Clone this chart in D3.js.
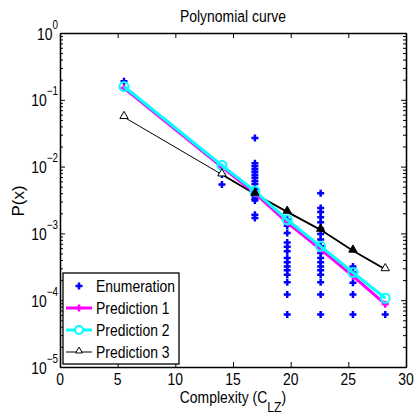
<!DOCTYPE html>
<html lang="en">
<head>
    <meta charset="UTF-8">
    <title>Polynomial curve</title>
    <script type="text/javascript" src="https://d3js.org/d3.v7.min.js"></script>
    <style>
        body { margin: 0; background: #fff; }
        text { font-family: "Liberation Sans", Arial, sans-serif; fill: #000; }
    </style>
</head>
<body>
    <div id="chart"></div>

    <script>
        // data
        const complexity = [5.55, 14.04, 16.9, 19.7, 22.6, 25.4, 28.2];

        const enumeration = [
            [0.19],
            [0.0054, 0.0076],
            [0.0268, 0.0112, 0.0101, 0.0091, 0.0083, 0.0075, 0.0068, 0.0061, 0.0055, 0.0046, 0.0041, 0.0036, 0.0033, 0.0031, 0.0019, 0.0017],
            [0.0016, 0.0013, 0.00101, 0.00073, 0.00063, 0.00054, 0.00043, 0.00037, 0.00032, 0.00028, 0.00024, 0.000185, 0.000122, 0.000061],
            [0.0040, 0.0024, 0.0021, 0.00174, 0.00147, 0.00118, 0.00098, 0.00081, 0.00064, 0.00051, 0.00043, 0.00037, 0.00032, 0.00028, 0.00024, 0.000185, 0.000122, 0.000061],
            [0.00032, 0.00026, 0.000183, 0.000122, 0.000061],
            [0.000061]
        ];

        const prediction1 = [0.150, 0.0098, 0.0040, 0.00145, 0.00058, 0.00023, 0.000087];
        const prediction2 = [0.158, 0.0104, 0.0043, 0.0016, 0.00064, 0.00026, 0.000107];
        const prediction3 = [0.055, 0.0076, 0.0039, 0.0021, 0.00113, 0.00055, 0.00029];

        const xTicks = [0, 5, 10, 15, 20, 25, 30];
        const yExponents = [0, -1, -2, -3, -4, -5];
        const legendLabels = ["Enumeration", "Prediction 1", "Prediction 2", "Prediction 3"];

        const width = 414, height = 420;
        const plotLeft = 60, plotRight = 406, plotTop = 33, plotBottom = 367;
        const squeeze = 0.82; // the figure's text is horizontally narrow

        const svg = d3.select("#chart")
            .append("svg")
            .attr("width", width)
            .attr("height", height);

        // place a text narrowed horizontally at (x, y)
        function placeNarrow(sel, x, y) {
            return sel.attr("transform", (d, i) => {
                const px = typeof x === "function" ? x(d, i) : x;
                const py = typeof y === "function" ? y(d, i) : y;
                return `translate(${px},${py}) scale(${squeeze},1)`;
            });
        }

        const xScale = d3.scaleLinear().domain([0, 30]).range([plotLeft, plotRight]);
        const yScale = d3.scaleLog().domain([1e-5, 1]).range([plotBottom, plotTop]);

        const majors = yExponents.map(e => Math.pow(10, e));
        const minors = [];
        for (let e = -5; e < 0; e++) {
            for (let m = 2; m <= 9; m++) minors.push(m * Math.pow(10, e));
        }

        // axes with inward ticks on all four sides
        svg.append("g")
            .attr("transform", `translate(0,${plotBottom})`)
            .call(d3.axisBottom(xScale).tickValues(xTicks).tickSize(-5).tickSizeOuter(0).tickFormat(""));
        svg.append("g")
            .attr("transform", `translate(0,${plotTop})`)
            .call(d3.axisTop(xScale).tickValues(xTicks).tickSize(-5).tickSizeOuter(0).tickFormat(""));
        svg.append("g")
            .attr("transform", `translate(${plotLeft},0)`)
            .call(d3.axisLeft(yScale).tickValues(majors).tickSize(-5).tickSizeOuter(0).tickFormat(""));
        svg.append("g")
            .attr("transform", `translate(${plotRight},0)`)
            .call(d3.axisRight(yScale).tickValues(majors).tickSize(-5).tickSizeOuter(0).tickFormat(""));
        svg.append("g")
            .attr("transform", `translate(${plotLeft},0)`)
            .call(d3.axisLeft(yScale).tickValues(minors).tickSize(-3).tickSizeOuter(0).tickFormat(""));
        svg.append("g")
            .attr("transform", `translate(${plotRight},0)`)
            .call(d3.axisRight(yScale).tickValues(minors).tickSize(-3).tickSizeOuter(0).tickFormat(""));

        svg.selectAll(".domain, .tick line").attr("stroke", "#000").attr("stroke-width", 1);
        svg.selectAll(".domain").attr("stroke-width", 1.3);

        // tick labels
        placeNarrow(svg.selectAll(".xlab")
            .data(xTicks)
            .enter()
            .append("text")
            .attr("text-anchor", "middle")
            .style("font-size", "17px")
            .text(d => d), d => xScale(d), plotBottom + 18);

        const ylab = placeNarrow(svg.selectAll(".ylab")
            .data(yExponents)
            .enter()
            .append("text")
            .attr("text-anchor", "end")
            .style("font-size", "17px"), plotLeft - 2, d => yScale(Math.pow(10, d)) + 6.5);
        ylab.append("tspan").text("10");
        ylab.append("tspan")
            .attr("dy", -11)
            .style("font-size", "12px")
            .text(d => d === 0 ? "0" : "\u2212" + (-d));

        // title and axis titles
        placeNarrow(svg.append("text")
            .attr("text-anchor", "middle")
            .style("font-size", "17px")
            .text("Polynomial curve"), (plotLeft + plotRight) / 2, 22);

        const xt = placeNarrow(svg.append("text")
            .attr("text-anchor", "middle")
            .style("font-size", "17px"), (plotLeft + plotRight) / 2, 403);
        xt.append("tspan").text("Complexity (C");
        xt.append("tspan").attr("dy", 9).style("font-size", "15px").text("LZ");
        xt.append("tspan").attr("dy", -9).text(")");

        svg.append("text")
            .attr("transform", `translate(24,${(plotTop + plotBottom) / 2 + 1}) rotate(-90)`)
            .attr("text-anchor", "middle")
            .style("font-size", "17px")
            .text("P(x)");

        const plot = svg.append("g");

        const plusPath = "M-3.5,0H3.5M0,-3.5V3.5";

        // enumeration points
        const enumPoints = [];
        enumeration.forEach((vals, i) => vals.forEach(v => enumPoints.push([complexity[i], v])));
        plot.selectAll(".enum")
            .data(enumPoints)
            .enter()
            .append("path")
            .attr("d", plusPath)
            .attr("transform", d => `translate(${xScale(d[0])},${yScale(d[1])})`)
            .attr("stroke", "#0000ff")
            .attr("stroke-width", 2.5);

        const line = d3.line()
            .x((d, i) => xScale(complexity[i]))
            .y(d => yScale(d));

        // prediction 3 (black, triangles)
        plot.append("path")
            .attr("d", line(prediction3))
            .attr("fill", "none")
            .attr("stroke", "#000")
            .attr("stroke-width", 1);
        plot.append("path")
            .attr("d", d3.line().x((d, i) => xScale(complexity[i + 1])).y(d => yScale(d))(prediction3.slice(1)))
            .attr("fill", "none")
            .attr("stroke", "#000")
            .attr("stroke-width", 1.8);

        // prediction 1 (magenta, plus)
        plot.append("path")
            .attr("d", line(prediction1))
            .attr("fill", "none")
            .attr("stroke", "#ff00ff")
            .attr("stroke-width", 3);
        plot.selectAll(".p1")
            .data(prediction1)
            .enter()
            .append("path")
            .attr("d", plusPath)
            .attr("transform", (d, i) => `translate(${xScale(complexity[i])},${yScale(d)})`)
            .attr("stroke", "#ff00ff")
            .attr("stroke-width", 2.5);

        // prediction 2 (cyan, circles)
        plot.append("path")
            .attr("d", line(prediction2))
            .attr("fill", "none")
            .attr("stroke", "#00ffff")
            .attr("stroke-width", 3);
        plot.selectAll(".p2")
            .data(prediction2)
            .enter()
            .append("circle")
            .attr("cx", (d, i) => xScale(complexity[i]))
            .attr("cy", d => yScale(d))
            .attr("r", 4.5)
            .attr("fill", "none")
            .attr("stroke", "#00ffff")
            .attr("stroke-width", 2);

        const tri = d3.symbol().type(d3.symbolTriangle).size(30);
        plot.selectAll(".p3")
            .data(prediction3)
            .enter()
            .append("path")
            .attr("d", tri)
            .attr("transform", (d, i) => `translate(${xScale(complexity[i])},${yScale(d) - 1})`)
            .attr("fill", (d, i) => (i >= 2 && i <= 5) ? "#000" : "#fff")
            .attr("stroke", "#000")
            .attr("stroke-width", 1);

        // legend
        const legend = svg.append("g").attr("transform", "translate(63,273)");
        legend.append("rect")
            .attr("width", 116)
            .attr("height", 91)
            .attr("fill", "#fff")
            .attr("stroke", "#000")
            .attr("stroke-width", 1.3);

        const rowY = [13, 35, 57, 79];
        placeNarrow(legend.selectAll(".ltext")
            .data(legendLabels)
            .enter()
            .append("text")
            .style("font-size", "17px")
            .text(d => d), 33, (d, i) => rowY[i] + 6);

        legend.append("path")
            .attr("d", plusPath)
            .attr("transform", `translate(16,${rowY[0]})`)
            .attr("stroke", "#0000ff")
            .attr("stroke-width", 2.5);

        legend.append("line")
            .attr("x1", 3).attr("x2", 29).attr("y1", rowY[1]).attr("y2", rowY[1])
            .attr("stroke", "#ff00ff").attr("stroke-width", 3);
        legend.append("path")
            .attr("d", plusPath)
            .attr("transform", `translate(16,${rowY[1]})`)
            .attr("stroke", "#ff00ff")
            .attr("stroke-width", 2.5);

        legend.append("line")
            .attr("x1", 3).attr("x2", 29).attr("y1", rowY[2]).attr("y2", rowY[2])
            .attr("stroke", "#00ffff").attr("stroke-width", 3);
        legend.append("circle")
            .attr("cx", 16).attr("cy", rowY[2]).attr("r", 4)
            .attr("fill", "#fff")
            .attr("stroke", "#00ffff").attr("stroke-width", 2);

        legend.append("line")
            .attr("x1", 3).attr("x2", 29).attr("y1", rowY[3]).attr("y2", rowY[3])
            .attr("stroke", "#000").attr("stroke-width", 1);
        legend.append("path")
            .attr("d", d3.symbol().type(d3.symbolTriangle).size(20))
            .attr("transform", `translate(16,${rowY[3] - 1})`)
            .attr("fill", "#fff")
            .attr("stroke", "#000")
            .attr("stroke-width", 1);
    </script>
</body>
</html>
